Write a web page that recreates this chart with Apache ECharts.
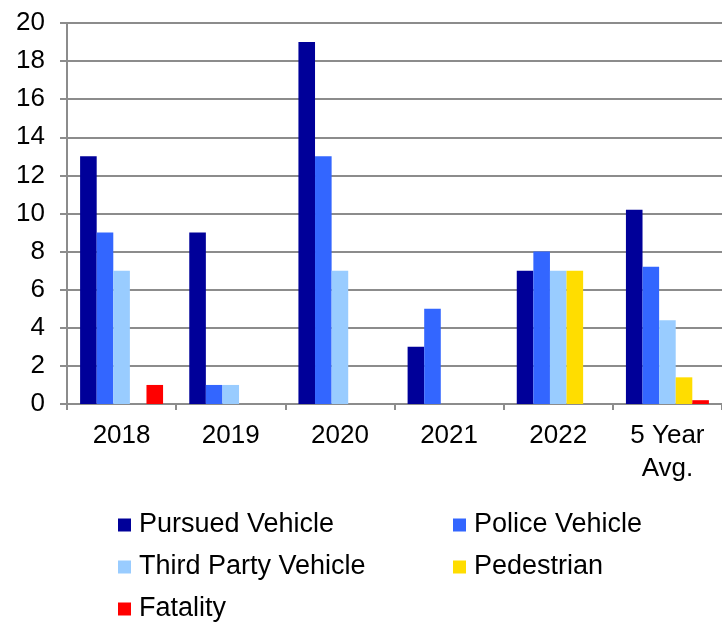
<!DOCTYPE html>
<html>
<head>
<meta charset="utf-8">
<script src="https://cdn.jsdelivr.net/npm/echarts@6/dist/echarts.min.js"></script>
<style>
  html, body { margin: 0; padding: 0; background: #fff; }
  #chart { width: 722px; height: 622px; }
</style>
</head>
<body>
<div id="chart"></div>
<script>
// Pursuit-related injuries by year, with the five-year average
const categories = ['2018', '2019', '2020', '2021', '2022', '5 Year\nAvg.'];
const pursuedVehicle = [13, 9, 19, 3, 7, 10.2];
const policeVehicle = [9, 1, 13, 5, 8, 7.2];
const thirdPartyVehicle = [7, 1, 7, 0, 7, 4.4];
const pedestrian = [0, 0, 0, 0, 7, 1.4];
const fatality = [1, 0, 0, 0, 0, 0.2];
const yTicks = { min: 0, max: 20, interval: 2 };

const FONT = '"Liberation Sans", Arial, sans-serif';
const GRID_GREY = '#8c8c8c';

const seriesDefs = [
  { name: 'Pursued Vehicle', data: pursuedVehicle, color: '#000099' },
  { name: 'Police Vehicle', data: policeVehicle, color: '#3366FF' },
  { name: 'Third Party Vehicle', data: thirdPartyVehicle, color: '#99CCFF' },
  { name: 'Pedestrian', data: pedestrian, color: '#FFDD00' },
  { name: 'Fatality', data: fatality, color: '#FF0000' }
];

const chart = echarts.init(document.getElementById('chart'), null, { renderer: 'canvas' });

const legendText = { fontFamily: FONT, fontSize: 27, color: '#000', lineHeight: 27, padding: [0, 0, 0, 3] };
const legendBase = {
  orient: 'vertical',
  top: 511.5,
  height: 140,
  padding: 0,
  itemWidth: 13,
  itemHeight: 13,
  itemGap: 15,
  icon: 'rect',
  textStyle: legendText
};

chart.setOption({
  animation: false,
  backgroundColor: '#fff',
  grid: { left: 67, top: 23, right: -6, bottom: 218, containLabel: false },
  xAxis: {
    type: 'category',
    data: categories,
    axisLine: { show: true, lineStyle: { color: GRID_GREY, width: 2 } },
    axisTick: { show: true, length: 6, lineStyle: { color: GRID_GREY, width: 2 } },
    axisLabel: { fontFamily: FONT, fontSize: 26, color: '#000', margin: 15, lineHeight: 33, interval: 0 }
  },
  yAxis: {
    type: 'value',
    min: yTicks.min,
    max: yTicks.max,
    interval: yTicks.interval,
    axisLine: { show: true, lineStyle: { color: GRID_GREY, width: 2 } },
    axisTick: { show: true, length: 7, lineStyle: { color: GRID_GREY, width: 2 } },
    axisLabel: { fontFamily: FONT, fontSize: 26, color: '#000', margin: 22 },
    splitLine: { show: true, lineStyle: { color: GRID_GREY, width: 2 } }
  },
  legend: [
    Object.assign({}, legendBase, {
      left: 118,
      data: ['Pursued Vehicle', 'Third Party Vehicle', 'Fatality']
    }),
    Object.assign({}, legendBase, {
      left: 453,
      data: ['Police Vehicle', 'Pedestrian']
    })
  ],
  series: seriesDefs.map(s => ({
    name: s.name,
    type: 'bar',
    data: s.data,
    barGap: '0%',
    barCategoryGap: '24%',
    itemStyle: { color: s.color }
  }))
});
</script>
</body>
</html>
